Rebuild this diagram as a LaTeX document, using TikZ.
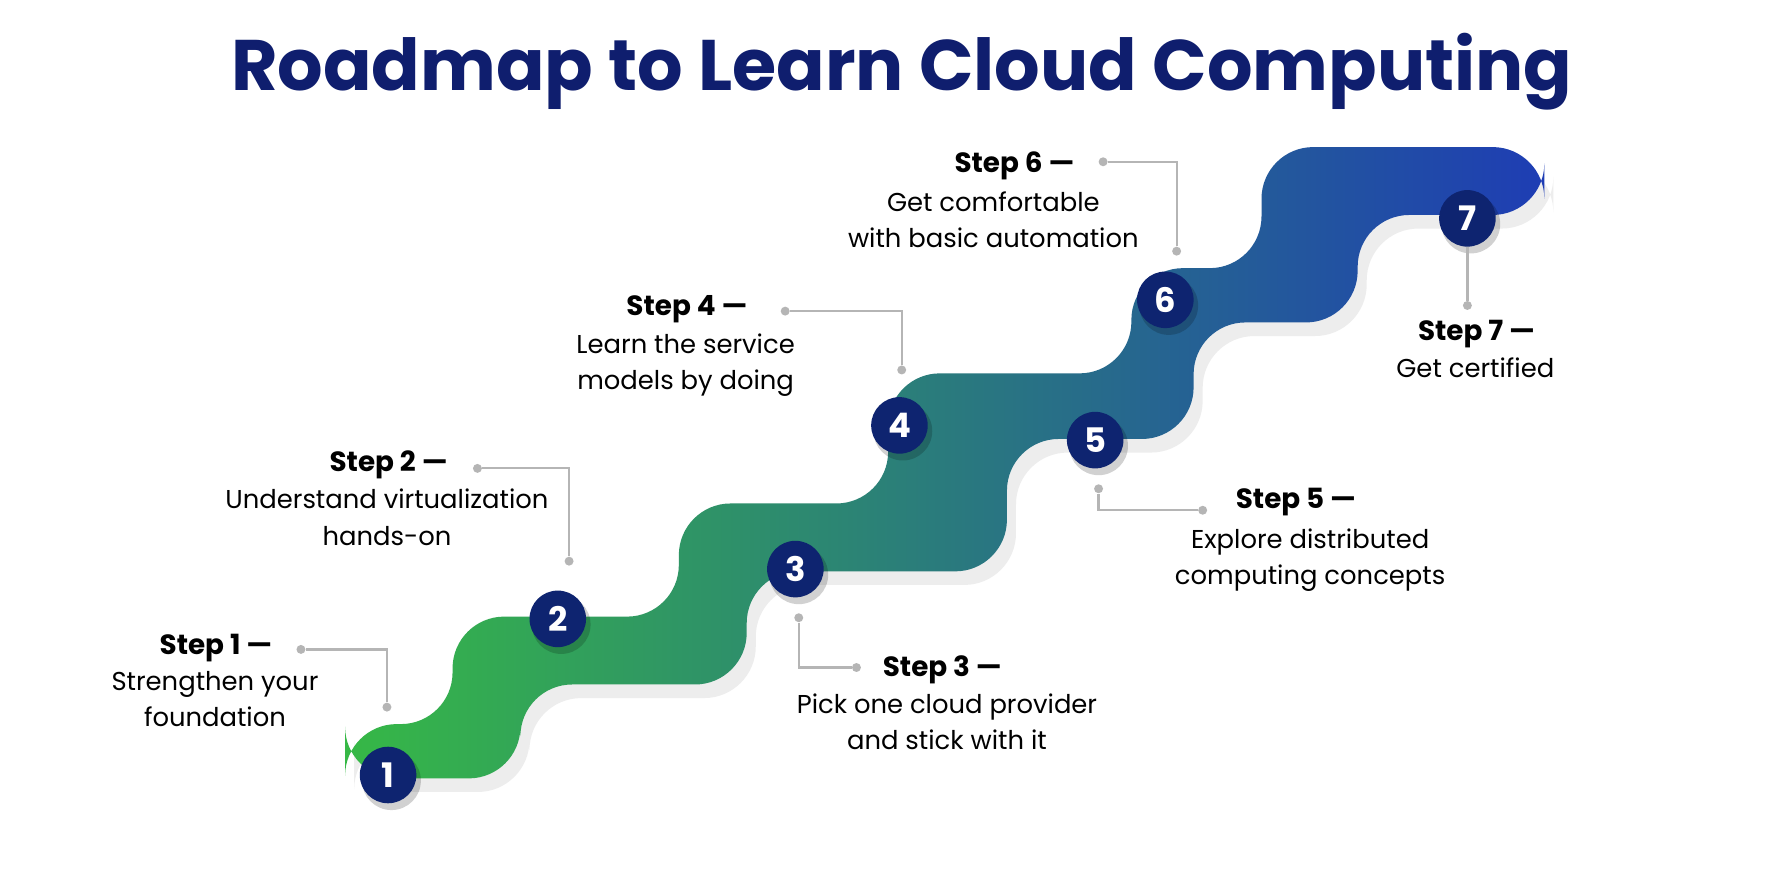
\documentclass[tikz,border=0pt]{standalone}
\usepackage{fontspec}
\setmainfont{Poppins}
\usetikzlibrary{positioning}
\definecolor{navy}{HTML}{0E2470}
\definecolor{titleblue}{HTML}{0F1E6E}
\definecolor{stepgreen}{HTML}{36B846}
\definecolor{stepteal}{HTML}{13A28C}
\definecolor{stepblue}{HTML}{1E3DB4}
\definecolor{leadgray}{HTML}{B5B5B5}
\tikzset{
  stepnum/.style={circle,fill=navy,minimum size=1cm,inner sep=0pt,
    text=white,font=\fontsize{17}{17}\selectfont\bfseries},
  numshadow/.style={circle,fill=black,opacity=0.18,minimum size=1.04cm},
  leader/.style={leadgray,line width=1.1pt},
  dotend/.style={circle,fill=leadgray,inner sep=0pt,minimum size=4.5pt},
  steptitle/.style={inner sep=0pt,font=\fontsize{14}{14}\selectfont\bfseries},
  stepdesc/.style={inner sep=0pt,align=center,font=\fontsize{13}{18.2}\selectfont},
}
\def\ribbon{(305,640) -- (400,640) -- (400,545) -- (600,545) -- (600,445)
  -- (785,445) -- (785,330) -- (1000,330) -- (1000,237) -- (1115,237)
  -- (1115,130) -- (1365,130) -- (1365,190) -- (1200,190) -- (1200,285)
  -- (1055,285) -- (1055,388) -- (890,388) -- (890,505) -- (660,505)
  -- (660,605) -- (460,605) -- (460,688) -- (305,688) -- cycle}
\begin{document}
\begin{tikzpicture}[x=0.02cm,y=-0.02cm]
\fill[white] (0,0) rectangle (1568,784);
\useasboundingbox (0,0) rectangle (1568,784);
% title
\node[font=\fontsize{36}{36}\selectfont\bfseries,text=titleblue] (title) at (797,63) {Roadmap to Learn Cloud Computing};
% ribbon with soft shadow
\begin{scope}[shift={(8,12)}]
\fill[black!7,rounded corners=26] \ribbon;
\end{scope}
\shade[left color=stepgreen,middle color=stepteal,right color=stepblue,rounded corners=26] \ribbon;
% numbered markers
\foreach \n/\x/\y in {1/343/685,2/493/547,3/703/503,4/795/376,5/968/389,6/1030/265,7/1297/193}{
  \node[numshadow] at (\x+3,\y+5) {};
  \node[stepnum] (s\n) at (\x,\y) {\n};
}
% step 1
\node[dotend] (d1a) at (342,625) {};
\node[dotend] (d1b) at (266,574) {};
\draw[leader] (d1a) |- (d1b);
\node[steptitle,anchor=east] (t1) at (241,573) {Step 1 —};
\node[stepdesc,anchor=north] (l1) at (190,593) {Strengthen your\\foundation};
% step 2
\node[dotend] (d2a) at (503,496) {};
\node[dotend] (d2b) at (422,414) {};
\draw[leader] (d2a) |- (d2b);
\node[steptitle,anchor=east] (t2) at (396,411) {Step 2 —};
\node[stepdesc,anchor=north] (l2) at (342,432) {Understand virtualization\\hands-on};
% step 3
\node[dotend] (d3a) at (706,546) {};
\node[dotend] (d3b) at (757,590) {};
\draw[leader] (d3a) |- (d3b);
\node[steptitle,anchor=west] (t3) at (780,592) {Step 3 —};
\node[stepdesc,anchor=north] (l3) at (837,613) {Pick one cloud provider\\and stick with it};
% step 4
\node[dotend] (d4a) at (797,327) {};
\node[dotend] (d4b) at (694,275) {};
\draw[leader] (d4a) |- (d4b);
\node[steptitle,anchor=east] (t4) at (661,273) {Step 4 —};
\node[stepdesc,anchor=north] (l4) at (606,295) {Learn the service\\models by doing};
% step 5
\node[dotend] (d5a) at (971,432) {};
\node[dotend] (d5b) at (1063,451) {};
\draw[leader] (d5a) |- (d5b);
\node[steptitle,anchor=west] (t5) at (1092,444) {Step 5 —};
\node[stepdesc,anchor=north] (l5) at (1158,467) {Explore distributed\\computing concepts};
% step 6
\node[dotend] (d6a) at (1040,222) {};
\node[dotend] (d6b) at (975,143) {};
\draw[leader] (d6a) |- (d6b);
\node[steptitle,anchor=east] (t6) at (950,147) {Step 6 —};
\node[stepdesc,anchor=north] (l6) at (878,169) {Get comfortable\\with basic automation};
% step 7
\node[dotend] (d7) at (1297,270) {};
\draw[leader] (s7) -- (d7);
\node[steptitle,anchor=west] (t7) at (1253,295) {Step 7 —};
\node[stepdesc,anchor=north] (l7) at (1304,316) {Get certified};
\end{tikzpicture}
\end{document}
